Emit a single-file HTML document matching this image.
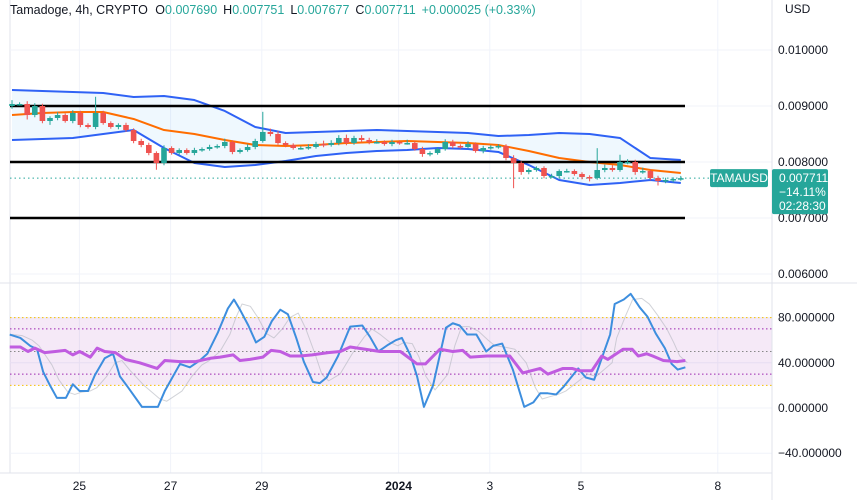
<!DOCTYPE html>
<html><head><meta charset="utf-8"><style>
body{margin:0;background:#fff;font-family:"Liberation Sans",sans-serif;}
svg{display:block}
</style></head><body>
<svg id="c" width="857" height="500" xmlns="http://www.w3.org/2000/svg" font-family="Liberation Sans, sans-serif">
<rect width="857" height="500" fill="#fff"/>
<g id="grid"></g>
<g id="main"></g>
<g id="osc"></g>
<line x1="772" y1="0" x2="772" y2="500" stroke="#e0e3eb"/>
<line x1="0" y1="283" x2="857" y2="283" stroke="#e0e3eb"/>
<line x1="0" y1="473" x2="772" y2="473" stroke="#e0e3eb"/>
<g id="axes" font-size="12" fill="#131722"></g>
<text x="10" y="14" font-size="12.5" fill="#131722">Tamadoge, 4h, CRYPTO <tspan dx="4">O</tspan><tspan fill="#26a69a">0.007690</tspan><tspan dx="6">H</tspan><tspan fill="#26a69a">0.007751</tspan><tspan dx="6">L</tspan><tspan fill="#26a69a">0.007677</tspan><tspan dx="6">C</tspan><tspan fill="#26a69a">0.007711</tspan><tspan dx="6" fill="#26a69a">+0.000025 (+0.33%)</tspan></text>
<rect x="776" y="0" width="40" height="20" rx="3" fill="#fff"/>
<text x="785" y="13" font-size="12" fill="#131722">USD</text>
</svg>
<script>
// ---- data ----
const closes=[0.009036,0.009036,0.008839,0.009000,0.008732,0.008786,0.008839,0.008732,0.008875,0.008661,
0.008625,0.008875,0.008696,0.008625,0.008661,0.008571,0.008375,0.008304,0.008161,0.007982,
0.008250,0.008161,0.008214,0.008161,0.008214,0.008232,0.008268,0.008286,0.008357,0.008179,
0.008214,0.008268,0.008375,0.008536,0.008500,0.008339,0.008304,0.008250,0.008250,0.008268,
0.008321,0.008304,0.008339,0.008429,0.008339,0.008429,0.008393,0.008357,0.008357,0.008321,
0.008357,0.008339,0.008339,0.008232,0.008143,0.008161,0.008232,0.008357,0.008286,0.008268,
0.008321,0.008196,0.008250,0.008268,0.008286,0.008071,0.007982,0.007821,0.007857,0.007893,
0.007750,0.007750,0.007839,0.007839,0.007786,0.007732,0.007714,0.007857,0.007893,0.007857,
0.008000,0.008000,0.007821,0.007839,0.007714,0.007661,0.007679,0.007696,0.007711];
const firstOpen=0.009000;
const wickHi=[0.00007,0.00003,0.00005,0.00005,0.00004,0.00003,0.00005,0.00003,0.00005,0.00004,
0.00003,0.00029,0.00004,0.00003,0.00003,0.00004,0.00003,0.00004,0.00004,0.00003,
0.00005,0.00003,0.00003,0.00003,0.00004,0.00003,0.00004,0.00003,0.00006,0.00003,
0.00003,0.00005,0.00004,0.00036,0.00006,0.00005,0.00003,0.00003,0.00003,0.00005,
0.00004,0.00006,0.00005,0.00005,0.00006,0.00004,0.00005,0.00004,0.00005,0.00003,
0.00004,0.00003,0.00006,0.00003,0.00004,0.00003,0.00003,0.00005,0.00004,0.00003,
0.00005,0.00003,0.00004,0.00003,0.00003,0.00003,0.00005,0.00003,0.00003,0.00003,
0.00003,0.00004,0.00003,0.00004,0.00003,0.00003,0.00003,0.00039,0.00006,0.00005,
0.00013,0.00005,0.00004,0.00006,0.00003,0.00004,0.00004,0.00003,0.00004];
const wickLo=[0.00005,0.00003,0.00008,0.00004,0.00004,0.00007,0.00004,0.00003,0.00004,0.00004,
0.00003,0.00004,0.00003,0.00003,0.00004,0.00003,0.00004,0.00004,0.00004,0.00012,
0.00004,0.00003,0.00003,0.00003,0.00004,0.00003,0.00003,0.00003,0.00004,0.00004,
0.00003,0.00003,0.00004,0.00003,0.00004,0.00003,0.00004,0.00003,0.00003,0.00003,
0.00003,0.00004,0.00003,0.00004,0.00004,0.00003,0.00004,0.00004,0.00003,0.00003,
0.00004,0.00003,0.00003,0.00003,0.00005,0.00004,0.00003,0.00003,0.00004,0.00003,
0.00003,0.00003,0.00004,0.00003,0.00003,0.00004,0.00045,0.00005,0.00004,0.00003,
0.00004,0.00003,0.00004,0.00003,0.00003,0.00004,0.00006,0.00003,0.00004,0.00003,
0.00003,0.00004,0.00005,0.00003,0.00004,0.00008,0.00004,0.00004,0.00003];
const bandT=[0,4,8,12,16,20,24,28,32,36,40,44,48,52,56,60,64,68,72,76,80,84,88];
const bbUpper=[0.009286,0.009268,0.009250,0.009232,0.009161,0.009179,0.009107,0.008911,0.008625,0.008518,0.008536,0.008554,0.008571,0.008554,0.008536,0.008518,0.008464,0.008482,0.008518,0.008500,0.008429,0.008071,0.008036];
const bbBasis=[0.008839,0.008875,0.008893,0.008893,0.008768,0.008571,0.008500,0.008393,0.008304,0.008286,0.008304,0.008339,0.008357,0.008375,0.008357,0.008339,0.008304,0.008196,0.008071,0.008000,0.007946,0.007857,0.007804];
const bbLower=[0.008393,0.008411,0.008429,0.008500,0.008571,0.008250,0.007982,0.007911,0.007946,0.008018,0.008107,0.008161,0.008196,0.008214,0.008250,0.008232,0.008179,0.007946,0.007679,0.007589,0.007625,0.007679,0.007625];
const levels=[0.009,0.008,0.007];
const priceTicks=[0.010,0.009,0.008,0.007,0.006];
const oscTicks=[80,40,0,-40];
const stochT=[-0.3,1.1,2.4,3.3,4.1,5.0,5.9,7.1,8.0,8.9,10.0,10.9,12.2,13.3,14.2,15.3,17.1,19.2,20.1,22.1,23.4,24.7,25.7,27.1,28.4,29.2,30.0,31.1,32.1,33.2,34.2,35.3,36.3,37.4,38.4,39.6,40.5,41.4,42.9,44.5,46.1,47.1,48.2,49.5,50.5,51.3,52.4,53.3,54.2,55.4,57.1,58.0,58.9,59.9,61.1,62.4,63.3,64.5,65.9,67.4,68.6,69.5,70.5,71.6,72.6,74.5,75.5,76.6,78.7,79.3,80.5,81.4,82.6,83.6,84.7,85.9,86.8,87.6,88.6];
const stochK=[65,62,55,52,32,20,9,9,21,15,15,29,44,48,28,18,1,1,15,39,36,42,48,67,88,96,87,73,58,63,77,87,83,62,41,23,22,27,46,72,73,63,50,56,60,62,47,28,1,20,71,75,73,65,65,50,55,57,34,1,5,13,13,12,19,35,27,25,65,92,96,101,89,81,66,53,39,34,36];
const stochD=[65,64,60,55,47,38,25,14,12,14,15,18,28,40,42,33,20,8,6,15,28,38,42,50,65,80,92,90,80,66,62,70,80,84,70,48,30,24,30,48,63,70,65,58,55,58,57,45,28,16,30,55,72,72,68,60,55,54,52,40,18,8,10,12,15,25,30,28,40,62,82,96,97,92,82,70,58,46,40];
const rsiT=[-0.3,1.1,2.1,3.0,4.3,5.7,7.0,8.0,8.9,10.3,11.2,12.2,13.6,14.9,16.8,19.1,20.1,22.1,24.1,26.1,27.4,29.1,30.0,31.3,33.0,34.1,35.3,36.6,37.9,39.5,41.6,43.2,44.5,46.5,48.4,50.4,51.1,53.3,54.4,56.3,58.0,59.3,60.3,62.5,65.5,67.2,69.5,70.5,72.5,73.7,74.7,76.3,77.6,78.4,80.4,81.6,82.4,83.5,84.3,85.7,87.5,88.6];
const rsiV=[54,54,50,53,49,50,51,47,50,45,53,50,49,43,40,35,42,41,41,44,45,47,42,43,45,51,50,46,46,47,49,50,54,52,50,50,50,39,39,52,50,51,45,46,46,31,35,30,35,35,33,33,46,43,52,52,46,48,46,42,41,42];
const timeLabels=["25","27","29","2024","3","5","8"];
const timeIdx=[9,21,33,51,63,75,93];

// ---- axes ----
const NS="http://www.w3.org/2000/svg";
const X=i=>12+i*7.6;
const PY=p=>50+(0.010-p)*56000;
const OY=v=>408-v*1.13;
function mk(tag,attrs,parent){const e=document.createElementNS(NS,tag);for(const k in attrs)e.setAttribute(k,attrs[k]);parent.appendChild(e);return e;}
const grid=document.getElementById('grid'),main=document.getElementById('main'),osc=document.getElementById('osc'),axes=document.getElementById('axes');

mk('line',{x1:10,y1:0,x2:10,y2:473,stroke:'#e0e3eb'},grid);
timeIdx.forEach((t,i)=>{
  const l=mk('line',{x1:X(t)-1,y1:0,x2:X(t)-1,y2:473,stroke:'#f0f3fa'},grid);
  
  
  const tx=mk('text',{x:X(t)-1,y:490,'text-anchor':'middle','font-size':12,fill:'#131722','font-weight':timeLabels[i]==='2024'?'bold':'normal'},axes);
  tx.textContent=timeLabels[i];
  
  
});
priceTicks.forEach(p=>{
  mk('line',{x1:10,y1:PY(p),x2:772,y2:PY(p),stroke:'#f0f3fa'},grid);
  const tx=mk('text',{x:778,y:PY(p)+4},axes);tx.textContent=p.toFixed(6);
  
  
});
oscTicks.forEach(v=>{
  mk('line',{x1:10,y1:OY(v),x2:772,y2:OY(v),stroke:'#f0f3fa'},grid);
  const tx=mk('text',{x:778,y:OY(v)+4},axes);tx.textContent=v.toFixed(6).replace('-','\u2212');
  
  
});

// ---- bollinger ----
const up=bandT.map((t,i)=>[X(t),PY(bbUpper[i])]),lo=bandT.map((t,i)=>[X(t),PY(bbLower[i])]);
const fill=mk('path',{d:'M'+up.map(p=>p.join(',')).join('L')+'L'+lo.slice().reverse().map(p=>p.join(',')).join('L')+'Z',fill:'#2196f3','fill-opacity':0.07},main);


function line(pts,color,w,name,parent,op){const e=mk('polyline',{points:pts.map(p=>p.join(',')).join(' '),fill:'none',stroke:color,'stroke-width':w,'stroke-linejoin':'round','stroke-opacity':op||1},parent);return e;}
let e;
e=line(up,'#2f62f5',2,'',main);
e=line(lo,'#2f62f5',2,'',main);
e=line(bandT.map((t,i)=>[X(t),PY(bbBasis[i])]),'#ff6d00',2,'',main);

// ---- levels ----
levels.forEach(p=>{
  const l=mk('line',{x1:10,y1:PY(p),x2:685,y2:PY(p),stroke:'#000','stroke-width':2.5},main);
  
  
});
const last=closes[closes.length-1];
e=mk('line',{x1:10,y1:PY(last),x2:710,y2:PY(last),stroke:'#26a69a','stroke-width':1,'stroke-dasharray':'1.5,3'},main);


// ---- candles ----
closes.forEach((c,i)=>{
  const o=i===0?firstOpen:closes[i-1];
  const col=c>=o?'#26a69a':'#ef5350';
  const hi=Math.max(o,c)+wickHi[i],lw=Math.min(o,c)-wickLo[i];
  const g=mk('g',{},main);
  
  
  mk('line',{x1:X(i),y1:PY(hi),x2:X(i),y2:PY(lw),stroke:col,'stroke-width':1},g);
  const top=PY(Math.max(o,c)),h=Math.max(1.5,PY(Math.min(o,c))-top);
  mk('rect',{x:X(i)-2.8,y:top,width:5.6,height:h,fill:col},g);
});

// ---- oscillator ----
e=mk('rect',{x:10,y:OY(80),width:762,height:OY(20)-OY(80),fill:'#9c27b0','fill-opacity':0.1},osc);

[[80,'#f5c000'],[20,'#f5c000'],[70,'#9c27b0'],[30,'#9c27b0'],[50,'#888']].forEach(a=>{
  const l=mk('line',{x1:10,y1:OY(a[0]),x2:772,y2:OY(a[0]),stroke:a[1],'stroke-width':1,'stroke-dasharray':'1.5,2.5'},osc);
  
  
});
const n=Math.min(stochT.length,stochD.length);
e=line(stochT.slice(0,n).map((t,i)=>[X(t)+2,OY(stochD[i])]),'#b2b5be',1,'',osc,0.6);
e=line(stochT.map((t,i)=>[X(t),OY(stochK[i])]),'#3d8ede',2,'',osc);
e=line(rsiT.map((t,i)=>[X(t),OY(rsiV[i])]),'#c05ce0',3,'',osc);

// ---- last price labels ----
const ly=PY(last);
e=mk('rect',{x:710,y:ly-9,width:58,height:18,rx:2,fill:'#26a69a'},axes);
e=mk('text',{x:739,y:ly+4,'text-anchor':'middle',fill:'#fff','font-size':12},axes);e.textContent='TAMAUSD';
e=mk('rect',{x:772,y:ly-9,width:56,height:45,rx:2,fill:'#26a69a'},axes);
['0.007711','\u221214.11%','02:28:30'].forEach((s,i)=>{
  const t=mk('text',{x:779,y:ly+4+i*14,fill:'#fff','font-size':12},axes);t.textContent=s;
  
  
});
</script>
</body></html>
